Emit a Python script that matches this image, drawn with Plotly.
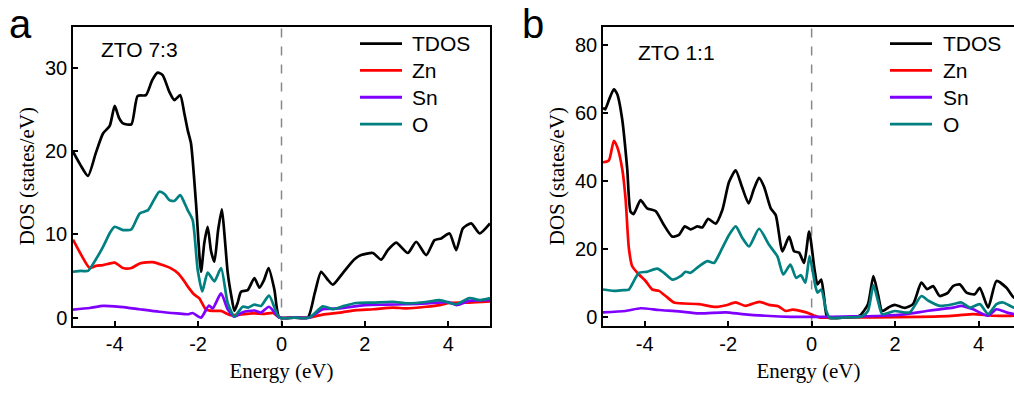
import plotly.graph_objects as go

# ---------------- Panel a (ZTO 7:3) ----------------
a_tdos_e = [-5.0, -4.82, -4.64, -4.45, -4.28, -4.12, -4.0, -3.9, -3.8, -3.6, -3.45, -3.25, -3.1, -2.97, -2.85,
            -2.69, -2.57, -2.43, -2.33, -2.25, -2.17, -2.05, -1.93, -1.85, -1.77, -1.69, -1.61, -1.52, -1.43,
            -1.36, -1.29, -1.2, -1.13, -1.05, -0.97, -0.81, -0.65, -0.53, -0.42, -0.31, -0.17, -0.05, 0.3,
            0.63, 0.8, 0.95, 1.1, 1.23, 1.47, 1.75, 1.91, 2.19, 2.39, 2.55, 2.75, 3.03, 3.23, 3.47, 3.67,
            3.83, 4.03, 4.19, 4.35, 4.55, 4.75, 5.0]
a_tdos_v = [19.9, 18.3, 17.0, 19.8, 22.1, 23.0, 25.4, 24.0, 23.3, 23.2, 26.6, 26.7, 28.5, 29.4, 29.1,
            27.1, 26.1, 26.7, 24.5, 22.5, 20.9, 13.7, 5.5, 9.0, 10.9, 8.0, 6.7, 10.5, 13.0,
            9.5, 5.4, 2.5, 0.8, 1.8, 3.1, 3.3, 4.75, 3.6, 4.5, 5.95, 3.35, 0.0, 0.0,
            0.0, 3.0, 5.5, 4.6, 3.95, 5.35, 7.0, 7.5, 7.75, 6.95, 8.1, 9.0, 7.75, 9.1, 7.5, 9.3,
            9.5, 10.1, 8.1, 10.7, 11.3, 10.1, 11.3]

a_o_e = [-5.0, -4.8, -4.64, -4.45, -4.28, -4.1, -4.0, -3.8, -3.6, -3.4, -3.2, -3.05, -2.93, -2.8, -2.69,
         -2.57, -2.43, -2.33, -2.25, -2.13, -2.01, -1.9, -1.77, -1.61, -1.45, -1.29, -1.13, -0.93, -0.8,
         -0.65, -0.49, -0.3, -0.05, 0.3, 0.67, 0.99, 1.23, 1.5, 1.79, 2.2, 2.67, 3.0, 3.23, 3.5, 3.79,
         4.19, 4.51, 4.75, 5.0]
a_o_v = [5.5, 5.6, 5.6, 7.0, 8.5, 10.3, 10.9, 10.5, 10.6, 12.5, 12.9, 14.2, 15.1, 14.8, 14.1,
         14.0, 14.7, 13.8, 12.9, 11.7, 5.75, 3.15, 5.4, 4.35, 5.95, 1.75, 0.15, 1.3, 1.2,
         1.55, 1.4, 2.65, 0.0, 0.0, 0.0, 1.35, 1.0, 1.4, 1.75, 1.8, 1.9, 1.7, 1.75, 1.9, 2.1,
         1.6, 2.35, 2.1, 2.35]

a_zn_e = [-5.0, -4.8, -4.6, -4.45, -4.28, -4.0, -3.8, -3.6, -3.4, -3.09, -2.85, -2.65, -2.49, -2.35, -2.25,
          -2.1, -1.97, -1.81, -1.65, -1.45, -1.23, -1.0, -0.7, -0.4, -0.2, -0.05, 0.3, 0.65, 0.99, 1.4,
          1.79, 2.2, 2.67, 3.0, 3.47, 3.8, 4.03, 4.5, 5.0]
a_zn_v = [9.35, 7.5, 5.95, 6.2, 6.3, 6.6, 5.95, 5.95, 6.5, 6.65, 6.3, 5.9, 5.35, 4.5, 3.75,
          2.8, 2.3, 0.95, 0.8, 0.8, 0.3, 0.35, 0.5, 0.45, 0.55, 0.0, 0.0, 0.0, 0.36, 0.6,
          0.9, 1.0, 1.2, 1.1, 1.3, 1.5, 1.75, 1.8, 1.95]

a_sn_e = [-5.0, -4.6, -4.28, -4.0, -3.7, -3.4, -2.93, -2.5, -2.25, -2.13, -1.93, -1.74, -1.65, -1.45, -1.29,
          -1.13, -0.93, -0.65, -0.49, -0.3, -0.05, 0.3, 0.67, 0.99, 1.4, 2.0, 2.5, 3.0, 3.5, 4.0, 4.2,
          4.5, 5.0]
a_sn_v = [0.95, 1.15, 1.4, 1.35, 1.2, 1.0, 0.7, 0.5, 0.4, 0.55, 0.0, 1.45, 1.1, 2.9, 1.0,
          0.1, 0.65, 0.85, 0.6, 1.3, 0.0, 0.0, 0.0, 1.0, 1.1, 1.5, 1.55, 1.6, 1.7, 1.85, 1.5,
          2.0, 2.1]

# ---------------- Panel b (ZTO 1:1) ----------------
b_tdos_e = [-5.0, -4.95, -4.85, -4.74, -4.66, -4.54, -4.42, -4.34, -4.27, -4.18, -4.1, -3.94, -3.74, -3.54,
            -3.34, -3.18, -3.04, -2.9, -2.74, -2.62, -2.48, -2.3, -2.14, -1.98, -1.82, -1.67, -1.51, -1.38,
            -1.26, -1.14, -0.98, -0.86, -0.7, -0.54, -0.42, -0.3, -0.18, -0.06, 0.07, 0.14, 0.23, 0.3,
            0.38, 0.8, 1.15, 1.35, 1.48, 1.59, 1.69, 1.85, 1.99, 2.23, 2.43, 2.63, 2.77, 2.91, 3.07, 3.27,
            3.39, 3.55, 3.71, 3.91, 4.03, 4.23, 4.43, 4.67, 4.85, 5.0]
b_tdos_v = [61.5, 61.0, 64.0, 66.9, 65.5, 58.1, 43.6, 31.0, 30.3, 32.5, 34.4, 32.0, 31.2, 27.1,
            23.7, 24.2, 26.7, 25.8, 26.7, 26.4, 28.9, 27.5, 31.5, 39.7, 43.1, 38.3, 33.4, 37.8,
            40.9, 38.3, 32.0, 30.0, 19.4, 23.7, 19.4, 19.0, 16.0, 25.2, 14.0, 9.7, 11.1, 5.8,
            0.0, 0.0, 0.5, 3.9, 12.1, 6.8, 1.9, 3.0, 3.7, 2.8, 3.9, 10.2, 8.3, 9.2, 6.3, 7.3,
            9.2, 9.7, 7.3, 6.8, 8.7, 2.9, 10.7, 8.7, 5.8, 6.5]

b_o_e = [-5.0, -4.74, -4.5, -4.38, -4.26, -4.14, -3.94, -3.7, -3.54, -3.34, -3.14, -3.02, -2.9, -2.7, -2.5,
         -2.34, -2.18, -1.98, -1.82, -1.66, -1.5, -1.26, -1.02, -0.82, -0.68, -0.51, -0.37, -0.26, -0.15,
         -0.05, 0.09, 0.14, 0.23, 0.35, 0.43, 0.8, 1.2, 1.35, 1.48, 1.59, 1.69, 1.99, 2.35, 2.63, 2.8,
         3.07, 3.39, 3.59, 3.79, 4.03, 4.23, 4.43, 4.59, 4.85, 5.0]
b_o_v = [8.2, 7.8, 8.0, 8.2, 10.7, 13.1, 13.4, 14.3, 13.1, 11.1, 12.1, 13.4, 13.1, 15.0, 16.5,
         16.0, 19.4, 24.2, 26.7, 23.3, 20.8, 26.0, 21.3, 17.9, 12.6, 15.5, 11.6, 12.4, 10.2,
         18.0, 9.2, 7.3, 8.2, 2.0, 0.0, 0.0, 0.3, 1.9, 9.5, 4.9, 1.0, 1.9, 1.5, 6.3, 4.9,
         3.4, 3.9, 4.4, 2.9, 3.9, 1.0, 3.9, 4.4, 2.9, 3.0]

b_zn_e = [-5.0, -4.86, -4.74, -4.66, -4.54, -4.46, -4.38, -4.3, -4.14, -3.98, -3.82, -3.66, -3.5, -3.3,
          -3.06, -2.7, -2.3, -2.05, -1.82, -1.58, -1.26, -1.02, -0.8, -0.62, -0.46, -0.3, -0.13, 0.05,
          0.19, 1.0, 2.0, 3.07, 3.5, 3.87, 4.35, 4.85, 5.0]
b_zn_v = [45.5, 46.0, 51.8, 50.0, 43.6, 34.9, 20.3, 15.0, 12.6, 10.7, 8.2, 7.8, 6.3, 4.4,
          4.1, 3.9, 3.1, 3.6, 4.4, 3.4, 4.6, 3.7, 3.3, 1.9, 2.3, 2.0, 1.5, 0.6,
          0.0, 0.0, 0.1, 0.3, 0.6, 1.0, 0.5, 0.5, 0.5]

b_sn_e = [-5.0, -4.46, -4.1, -3.66, -3.18, -2.7, -2.06, -1.66, -1.1, -0.5, -0.13, 0.5, 1.0, 1.7, 2.27,
          2.75, 3.07, 3.39, 3.59, 3.87, 4.23, 4.43, 4.67, 4.85, 5.0]
b_sn_v = [1.5, 1.9, 2.7, 2.2, 1.8, 1.2, 1.5, 1.0, 0.5, 0.2, 0.2, 0.2, 0.3, 0.5, 1.0,
          1.9, 2.4, 2.9, 3.4, 2.4, 0.5, 2.4, 1.5, 1.0, 1.0]

series_names = ["TDOS", "Zn", "Sn", "O"]
series_colors = ["#000000", "#ff0000", "#8000ff", "#008080"]
panel_labels = ["a", "b"]
panel_titles = ["ZTO 7:3", "ZTO 1:1"]
a_yticks = [0, 10, 20, 30]
b_yticks = [0, 20, 40, 60, 80]
x_ticks = [-4, -2, 0, 2, 4]
x_ticktext = ["-4", "-2", "0", "2", "4"]

W, H = 1014, 394
SANS = "Arial, Liberation Sans, sans-serif"
SERIF = "Times New Roman, Liberation Serif, serif"

fig = go.Figure()

panel_a = [(a_tdos_e, a_tdos_v), (a_zn_e, a_zn_v), (a_sn_e, a_sn_v), (a_o_e, a_o_v)]
panel_b = [(b_tdos_e, b_tdos_v), (b_zn_e, b_zn_v), (b_sn_e, b_sn_v), (b_o_e, b_o_v)]

for panel, xa, ya in [(panel_a, "x", "y"), (panel_b, "x2", "y2")]:
    for i in [0, 1, 2, 3]:
        e, v = panel[i]
        fig.add_trace(go.Scatter(
            x=e, y=v, mode="lines", name=series_names[i],
            line=dict(color=series_colors[i], width=2.7, shape="spline", smoothing=0.6),
            xaxis=xa, yaxis=ya, showlegend=False,
        ))

def px_x(p):
    return p / W

def px_y(p):
    return 1 - p / H

ydom = [px_y(328), px_y(27)]
common_x = dict(
    tickmode="array", tickvals=x_ticks, ticktext=x_ticktext, ticks="inside", ticklen=5, tickwidth=1.5,
    tickcolor="black", showline=True, linecolor="black", linewidth=1.5, mirror=True, showgrid=False,
    zeroline=False, tickfont=dict(family=SANS, size=20, color="black"),
    title=dict(text="Energy (eV)", font=dict(family=SERIF, size=21, color="black"), standoff=9),
)
common_y = dict(
    ticks="inside", ticklen=5, tickwidth=1.5, tickcolor="black",
    showline=True, linecolor="black", linewidth=1.5, showgrid=False, zeroline=False,
    tickfont=dict(family=SANS, size=20, color="black"),
    title=dict(text="DOS (states/eV)", font=dict(family=SERIF, size=21, color="black"), standoff=5),
    domain=ydom,
)

fig.update_layout(
    width=W, height=H, margin=dict(l=0, r=0, t=0, b=0),
    paper_bgcolor="white", plot_bgcolor="white", showlegend=False,
    xaxis=dict(domain=[px_x(73), px_x(490)], range=[-5, 5], anchor="y", **common_x),
    yaxis=dict(range=[-0.95, 34.9], tickvals=a_yticks, anchor="x", mirror=True, **common_y),
    xaxis2=dict(domain=[px_x(603), 1.0], range=[-5, 4.85], anchor="y2", **common_x),
    yaxis2=dict(range=[-2.35, 85.2], tickvals=b_yticks, anchor="x2", mirror=False, **common_y),
)

# Fermi level dashed lines
for xr, yr in [("x", "y domain"), ("x2", "y2 domain")]:
    fig.add_shape(type="line", x0=0, x1=0, y0=0, y1=1, xref=xr, yref=yr,
                  line=dict(color="#888888", width=1.5, dash="dash"), layer="below")

# Legends (drawn as keys + labels)
row_y = [44, 71, 98, 125]
for lx0, lx1, tx in [(360, 402, 410), (890, 932, 941)]:
    for i, name in enumerate(series_names):
        fig.add_shape(type="line", xref="paper", yref="paper",
                      x0=px_x(lx0), x1=px_x(lx1), y0=px_y(row_y[i]), y1=px_y(row_y[i]),
                      line=dict(color=series_colors[i], width=2.8))
        fig.add_annotation(text=name, x=px_x(tx), y=px_y(row_y[i]), xref="paper", yref="paper",
                           xanchor="left", yanchor="middle", showarrow=False,
                           font=dict(family=SANS, size=21, color="black"))

# Panel letters and titles
fig.add_annotation(text=panel_labels[0], x=px_x(20), y=1, xref="paper", yref="paper",
                   xanchor="center", yanchor="top", showarrow=False,
                   font=dict(family=SANS, size=40, color="black"))
fig.add_annotation(text=panel_labels[1], x=px_x(533), y=1, xref="paper", yref="paper",
                   xanchor="center", yanchor="top", showarrow=False,
                   font=dict(family=SANS, size=40, color="black"))
fig.add_annotation(text=panel_titles[0], x=px_x(99), y=px_y(50), xref="paper", yref="paper",
                   xanchor="left", yanchor="middle", showarrow=False,
                   font=dict(family=SANS, size=21, color="black"))
fig.add_annotation(text=panel_titles[1], x=px_x(636), y=px_y(53), xref="paper", yref="paper",
                   xanchor="left", yanchor="middle", showarrow=False,
                   font=dict(family=SANS, size=21, color="black"))

fig.write_html("out.html")
